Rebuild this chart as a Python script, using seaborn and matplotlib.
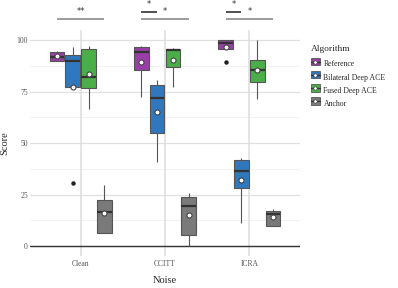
import matplotlib
matplotlib.use("Agg")
import matplotlib.pyplot as plt
import seaborn as sns
import pandas as pd
import numpy as np
from matplotlib.legend_handler import HandlerBase
from matplotlib.patches import Rectangle
from matplotlib.lines import Line2D

# ---- data (5 scores per group) ----
noise = ["Clean", "CCITT", "ICRA"]
algorithms = ["Reference", "Bilateral Deep ACE", "Fused Deep ACE", "Anchor"]
colors = ["#983fa6", "#2f78bd", "#4aaf48", "#7a7a7a"]

reference_scores = {
    "Clean": [89.8, 89.8, 91.9, 94.5, 95.0],
    "CCITT": [72.6, 85.7, 94.3, 96.6, 97.4],
    "ICRA":  [89.3, 95.9, 98.7, 100.0, 100.0],
}
bilateral_scores = {
    "Clean": [30.5, 77.2, 90.1, 92.7, 96.9],
    "CCITT": [40.7, 54.8, 71.8, 78.1, 80.7],
    "ICRA":  [11.3, 28.0, 36.6, 41.8, 42.6],
}
fused_scores = {
    "Clean": [66.4, 76.8, 82.0, 95.6, 97.1],
    "CCITT": [77.5, 87.2, 95.1, 95.9, 96.4],
    "ICRA":  [71.3, 79.7, 85.7, 90.6, 100.0],
}
anchor_scores = {
    "Clean": [6.2, 6.2, 16.7, 22.4, 29.7],
    "CCITT": [0.0, 5.3, 19.6, 23.7, 25.9],
    "ICRA":  [9.6, 9.6, 15.7, 17.2, 17.8],
}

# significance brackets: (noise, hue_i, hue_j, y, label, color)
brackets = [
    ("Clean", 0, 3, 110.4, "**", "#8a8a8a"),
    ("CCITT", 0, 1, 113.9, "*", "#333333"),
    ("CCITT", 0, 3, 110.4, "*", "#8a8a8a"),
    ("ICRA", 0, 1, 113.9, "*", "#333333"),
    ("ICRA", 0, 3, 110.4, "*", "#8a8a8a"),
]

rows = []
for alg, d in zip(algorithms, [reference_scores, bilateral_scores, fused_scores, anchor_scores]):
    for n in noise:
        for v in d[n]:
            rows.append({"Noise": n, "Algorithm": alg, "Score": v})
df = pd.DataFrame(rows)

sns.set_theme(style="white")
plt.rcParams["font.family"] = ["Liberation Serif", "DejaVu Serif"]

fig = plt.figure(figsize=(3.98, 2.88), dpi=100)
ax = fig.add_axes([30 / 398, (288 - 256.3) / 288, 270 / 398, 226.3 / 288])

# grid
for y in [12.5, 37.5, 62.5, 87.5]:
    ax.axhline(y, color="#f0f0f0", lw=0.6, zorder=0)
for y in [0, 25, 50, 75, 100]:
    ax.axhline(y, color="#e0e0e0", lw=0.9, zorder=0)
for x in range(len(noise)):
    ax.axvline(x, color="#dcdcdc", lw=1.1, zorder=0)

WIDTH = 0.75
sns.boxplot(
    data=df, x="Noise", y="Score", hue="Algorithm", order=noise, hue_order=algorithms,
    palette=colors, width=WIDTH, gap=0.08, ax=ax, showcaps=False, whis=1.5,
    showmeans=True, linecolor="#555555", linewidth=0.8, saturation=1,
    meanprops=dict(marker="o", markerfacecolor="white", markeredgecolor="#444444",
                   markersize=3.6, markeredgewidth=0.8),
    medianprops=dict(color="#333333", linewidth=1.6),
    whiskerprops=dict(color="#555555", linewidth=0.8),
    flierprops=dict(marker="o", markerfacecolor="#222222", markeredgecolor="#222222",
                    markersize=2.2),
    legend=False,
)
ax.axhline(0, color="#333333", lw=1.0, zorder=1)

ax.set_xlim(-0.6, 2.6)
ax.set_ylim(-5, 105)
ax.set_yticks([0, 25, 50, 75, 100])
for s in ax.spines.values():
    s.set_visible(False)
ax.tick_params(axis="both", length=0, labelsize=5.5, labelcolor="#555555")
ax.tick_params(axis="y", pad=1.5)
ax.tick_params(axis="x", pad=2.5)
ax.set_xlabel("Noise", fontsize=7.5, labelpad=6)
ax.set_ylabel("Score", fontsize=7.5, labelpad=5)

# brackets
nh = len(algorithms)
slot = WIDTH / nh
offsets = [-WIDTH / 2 + slot * (i + 0.5) for i in range(nh)]
for n, i, j, y, lab, col in brackets:
    c = noise.index(n)
    x0, x1 = c + offsets[i], c + offsets[j]
    ax.plot([x0, x1], [y, y], color=col, lw=1.2, clip_on=False, solid_capstyle="butt")
    ax.text((x0 + x1) / 2, y + 1.4, lab, ha="center", va="bottom", fontsize=6,
            color="#333333", clip_on=False, family="DejaVu Sans")


class BoxKeyHandler(HandlerBase):
    def create_artists(self, legend, orig, xd, yd, width, height, fontsize, trans):
        col = orig.get_facecolor()
        r = Rectangle((xd, yd), width, height, facecolor=col, edgecolor="#555555",
                      lw=0.6, transform=trans)
        m = Line2D([xd, xd + width], [yd + height / 2] * 2, color="#333333", lw=1.0,
                   transform=trans)
        d = Line2D([xd + width / 2], [yd + height / 2], marker="o", markersize=2.5,
                   markerfacecolor="white", markeredgecolor="#444444", markeredgewidth=0.5,
                   transform=trans)
        return [r, m, d]


handles = [Rectangle((0, 0), 1, 1, facecolor=c) for c in colors]
leg = fig.legend(handles, algorithms, title="Algorithm", loc="upper left",
                 bbox_to_anchor=(311 / 398, 1 - 45 / 288), frameon=False,
                 fontsize=5.6, title_fontsize=6.8, handlelength=1.1, handleheight=1.1,
                 handletextpad=0.5, labelspacing=0.62, borderaxespad=0, borderpad=0,
                 handler_map={Rectangle: BoxKeyHandler()})
leg._legend_box.align = "left"
leg._legend_box.sep = 5

fig.savefig("out.png", dpi=100)
